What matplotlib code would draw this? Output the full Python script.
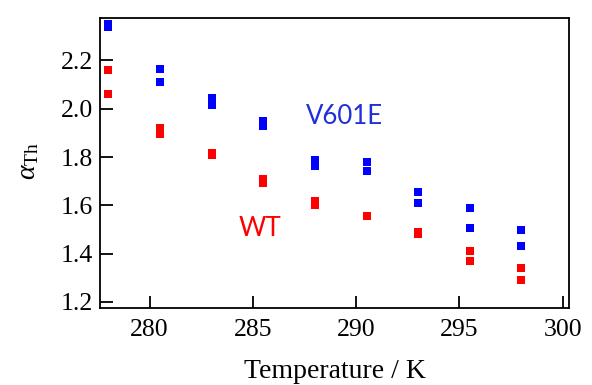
import matplotlib
matplotlib.use("Agg")
import matplotlib.pyplot as plt

# Data
temps_v601e = [278, 278, 280.5, 280.5, 283, 283, 285.5, 285.5, 288, 288,
               290.5, 290.5, 293, 293, 295.5, 295.5, 298, 298]
alpha_v601e = [2.35, 2.34, 2.166, 2.109, 2.043, 2.016, 1.949, 1.929, 1.786, 1.763,
               1.779, 1.742, 1.656, 1.610, 1.590, 1.505, 1.496, 1.430]

temps_wt = [278, 278, 280.5, 280.5, 283, 283, 285.5, 285.5, 288, 288,
            290.5, 293, 293, 295.5, 295.5, 298, 298]
alpha_wt = [2.161, 2.060, 1.920, 1.895, 1.818, 1.810, 1.711, 1.691, 1.618, 1.600,
            1.555, 1.490, 1.482, 1.410, 1.370, 1.340, 1.290]

xticks = [280, 285, 290, 295, 300]
yticks = [1.2, 1.4, 1.6, 1.8, 2.0, 2.2]

plt.rcParams['mathtext.fontset'] = 'custom'
plt.rcParams['mathtext.rm'] = 'Liberation Serif'
plt.rcParams['mathtext.it'] = 'Liberation Serif:italic'

fig = plt.figure(figsize=(5.92, 3.85), dpi=100)
ax = fig.add_axes([100/592, 1-308/385, 469/592, 290/385])

ax.plot(temps_v601e, alpha_v601e, linestyle='none', marker='s', markersize=6.3,
        color='#0000ff', markeredgewidth=0)
ax.plot(temps_wt, alpha_wt, linestyle='none', marker='s', markersize=6.3,
        color='#ff0000', markeredgewidth=0)

ax.set_xlim(277.6, 300.3)
ax.set_ylim(1.175, 2.376)
ax.set_xticks(xticks)
ax.set_yticks(yticks)
ax.set_xticklabels([str(t) for t in xticks], family='Liberation Serif', fontsize=18.5)
ax.set_yticklabels([f"{t:.1f}" for t in yticks], family='Liberation Serif', fontsize=18.5)
ax.tick_params(direction='in', length=9, width=1.3, colors='black')
ax.tick_params(axis='x', pad=8)
ax.tick_params(axis='y', pad=5)
for s in ax.spines.values():
    s.set_linewidth(1.3)

ax.set_xlabel('Temperature / K', family='Liberation Serif', fontsize=20)
ax.xaxis.set_label_coords(0.5, (308 - 378) / 290)
ax.xaxis.label.set_va('baseline')

ax.set_ylabel(r'$\alpha_{\mathrm{Th}}$', fontsize=20)
ax.yaxis.set_label_coords((27 - 100) / 469, (308 - 161) / 290)
ax.yaxis.label.set_va('center')

ax.text(287.55, 1.937, 'V601E', color='#1f30d8', family='Lato', fontsize=18.5,
        va='baseline', ha='left')
ax.text(284.3, 1.473, 'WT', color='#ff0000', family='Lato', fontsize=19,
        va='baseline', ha='left')

fig.savefig('out.png', dpi=100)
